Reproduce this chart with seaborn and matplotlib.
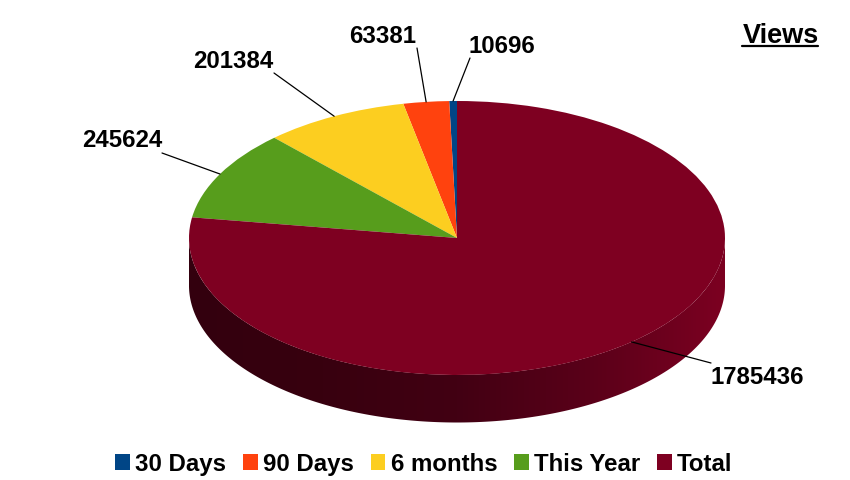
from __future__ import annotations

import numpy as np
import matplotlib
matplotlib.use("Agg")
import matplotlib.pyplot as plt
from matplotlib.colors import ListedColormap
from matplotlib.patches import Polygon
import seaborn as sns


CATEGORIES = ["30 Days", "90 Days", "6 months", "This Year", "Total"]
VIEWS = [10696, 63381, 201384, 245624, 1785436]
COLORS = ["#004586", "#ff420e", "#fcce20", "#579d1c", "#7e0021"]
SIDE_SHADES = ["#33000e", "#38000f", "#420013", "#5a0019", "#7c0021"]

# label centres in pixels, same order as the categories
LABEL_PIXELS = [(502, 47), (383, 37), (233, 62), (122, 141), (757, 377)]
LABEL_ENDS = [(470, 59), (417, 49), (274, 74), (162, 154), (711, 364)]

WIDTH, HEIGHT = 850, 481
CX, CY, RX, RY = 457, 239, 268, 137
DEPTH = 47.5 / RY
FONT = 17.3


def px(x, y):
    return (x - CX) / RX, (CY - y) / RY


sns.set_theme(style="white")
plt.rcParams["font.family"] = ["Liberation Sans", "DejaVu Sans"]
plt.rcParams["font.weight"] = "bold"

fig = plt.figure(figsize=(WIDTH / 100, HEIGHT / 100), dpi=100)
ax = fig.add_axes([0, 0, 1, 1])

wedges, _ = ax.pie(
    VIEWS,
    colors=COLORS,
    startangle=90,
    radius=1,
    wedgeprops={"linewidth": 0, "zorder": 3},
)

# side wall of the disc, shaded from left to right and clipped to its outline
shades = sns.blend_palette(SIDE_SHADES, n_colors=256)
theta = np.linspace(np.pi, 2 * np.pi, 400)
rim = np.column_stack([np.cos(theta), np.sin(theta) * 0.999])
lower = np.column_stack([np.cos(theta[::-1]), np.sin(theta[::-1]) - DEPTH])
outline = Polygon(np.vstack([rim, lower]), closed=True, transform=ax.transData,
                  facecolor="none", edgecolor="none")
ax.add_patch(outline)
side = ax.imshow(
    np.linspace(0, 1, 256).reshape(1, -1),
    cmap=ListedColormap(shades),
    extent=(-1, 1, -1 - DEPTH, 0),
    aspect="auto",
    interpolation="bilinear",
    zorder=1,
)
side.set_clip_path(outline)

ax.set_aspect("auto")
ax.set_xlim(px(0, 0)[0], px(WIDTH, 0)[0])
ax.set_ylim(px(0, HEIGHT)[1], px(0, 0)[1])
ax.axis("off")

# leader lines start on the rim at each wedge's mid angle
for wedge, value, centre, end in zip(wedges, VIEWS, LABEL_PIXELS, LABEL_ENDS):
    mid = np.deg2rad((wedge.theta1 + wedge.theta2) / 2)
    ax.plot(
        [np.cos(mid), px(*end)[0]],
        [np.sin(mid), px(*end)[1]],
        color="black", linewidth=0.9, zorder=4,
    )
    ax.text(*px(*centre), str(value), fontsize=FONT, fontweight="bold",
            color="black", ha="center", va="center", zorder=5)

ax.text(*px(780.5, 36), "Views", fontsize=19.5, fontweight="bold",
        color="black", ha="center", va="center")
ax.plot(*zip(px(742, 47), px(818, 47)), color="black", linewidth=1.6)

ax.legend(
    wedges, CATEGORIES,
    loc="center",
    bbox_to_anchor=(424 / WIDTH, 1 - 465 / HEIGHT),
    ncol=5,
    frameon=False,
    fontsize=FONT,
    labelcolor="black",
    handlelength=0.6,
    handleheight=0.6,
    handletextpad=0.22,
    columnspacing=0.71,
    borderpad=0,
)

fig.savefig("out.png", dpi=100, facecolor="white")
